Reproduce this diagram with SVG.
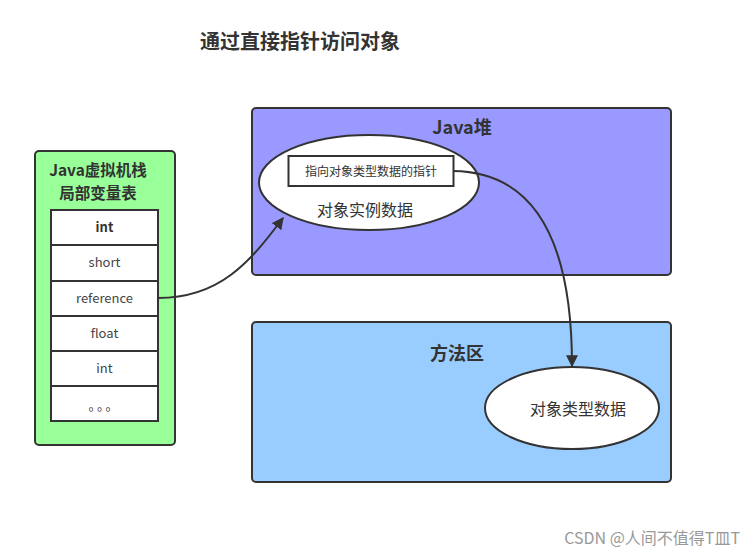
<svg xmlns="http://www.w3.org/2000/svg" width="754" height="556" viewBox="0 0 754 556">
<style>
text{font-family:"Noto Sans CJK SC","Noto Sans",sans-serif;fill:#333}
.b{stroke:#333;stroke-width:2}
.cell{fill:#fff;stroke:#333;stroke-width:2}
.t{font-size:13px;text-anchor:middle;fill:#444}
.c{fill:none;stroke:#333;stroke-width:2}
</style>
<defs>
<marker id="ah" viewBox="0 0 10 10" refX="9" refY="5" markerWidth="6" markerHeight="6" orient="auto" markerUnits="strokeWidth">
<path d="M0,0 L10,5 L0,10 Z" fill="#333"/>
</marker>
</defs>
<rect width="754" height="556" fill="#fff"/>
<text x="300" y="49" font-size="20" font-weight="bold" text-anchor="middle">通过直接指针访问对象</text>
<g id="stack">
<rect x="35" y="151" width="140" height="294" rx="4" fill="#99FF99" class="b"/>
<text x="98" y="176" font-size="15.5" font-weight="bold" text-anchor="middle">Java虚拟机栈</text>
<text x="98" y="199" font-size="15.5" font-weight="bold" text-anchor="middle">局部变量表</text>
<rect x="51" y="210" width="107" height="35" class="cell"/>
<rect x="51" y="245" width="107" height="36" class="cell"/>
<rect x="51" y="281" width="107" height="35" class="cell"/>
<rect x="51" y="316" width="107" height="35" class="cell"/>
<rect x="51" y="351" width="107" height="35" class="cell"/>
<rect x="51" y="386" width="107" height="35" class="cell"/>
<text x="104.5" y="232" class="t" font-weight="bold" style="fill:#333">int</text>
<text x="104.5" y="267" class="t">short</text>
<text x="104.5" y="303" class="t">reference</text>
<text x="104.5" y="338" class="t">float</text>
<text x="104.5" y="373" class="t">int</text>
<text x="104.5" y="410" class="t" letter-spacing="2">。。。</text>
</g>
<g id="heap">
<rect x="252" y="108" width="419" height="167" rx="4" fill="#9999FF" class="b"/>
<text x="462" y="134" font-size="18" font-weight="bold" text-anchor="middle">Java堆</text>
<ellipse cx="369" cy="182.5" rx="110" ry="47.5" fill="#fff" class="b"/>
<rect x="288.5" y="156" width="165" height="30" fill="#fff" class="b"/>
<text x="371" y="176" font-size="12" text-anchor="middle">指向对象类型数据的指针</text>
<text x="365" y="216" font-size="16" text-anchor="middle">对象实例数据</text>
</g>
<g id="method">
<rect x="252" y="322" width="419" height="160" rx="4" fill="#99CCFF" class="b"/>
<text x="457" y="360" font-size="18" font-weight="bold" text-anchor="middle">方法区</text>
<ellipse cx="572" cy="408" rx="87" ry="41" fill="#fff" class="b"/>
<text x="578" y="415" font-size="16" text-anchor="middle">对象类型数据</text>
</g>
<g id="connectors">
<path d="M158,298 C220,298 250,262 283,218" class="c" marker-end="url(#ah)"/>
<path d="M453,171 C545,172 572,260 572,366" class="c" marker-end="url(#ah)"/>
</g>
<text x="740" y="544" font-size="16" text-anchor="end" style="fill:#999">CSDN @人间不值得T皿T</text>
</svg>
